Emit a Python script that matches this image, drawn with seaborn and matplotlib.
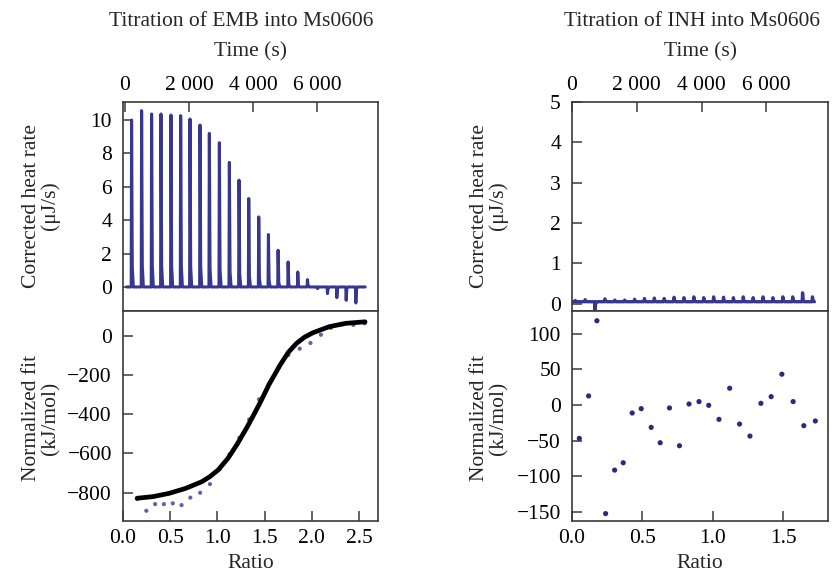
import numpy as np
import pandas as pd
import matplotlib
matplotlib.use("Agg")
import matplotlib.pyplot as plt
import seaborn as sns

# ---------------- data ----------------
# EMB thermogram: injection times (s) and peak heat rates (uJ/s)
emb_inj_time = [208, 521, 833, 1125, 1437, 1740, 2031, 2344, 2635, 2948, 3260, 3562,
                3865, 4177, 4479, 4781, 5094, 5396, 5698, 6010, 6323, 6615, 6906, 7208]
emb_inj_peak = [10.0, 10.56, 10.36, 10.36, 10.30, 10.26, 10.06, 9.7, 9.2, 8.64, 7.46, 6.4,
                5.3, 4.2, 3.14, 2.2, 1.5, 0.9, 0.44, -0.1, -0.4, -0.64, -0.8, -0.96]
emb_trace_start, emb_trace_end = 52, 7500

# EMB isotherm: integrated points and fit curve
emb_ratio = [0.15, 0.247, 0.34, 0.433, 0.527, 0.62, 0.713, 0.817, 0.921, 1.024, 1.128, 1.232,
             1.336, 1.44, 1.545, 1.649, 1.751, 1.871, 1.985, 2.096, 2.2, 2.32, 2.44, 2.56]
emb_heat = [-832, -892, -858, -858, -854, -863, -825, -800, -756, -680, -604, -520,
            -427, -324, -245, -160, -98, -66, -37, 5, 40, 58, 55, 63]
emb_fit_ratio = [0.149, 0.315, 0.489, 0.662, 0.834, 0.92, 1.007, 1.111, 1.215, 1.318, 1.39,
                 1.457, 1.55, 1.664, 1.75, 1.837, 1.92, 2.01, 2.183, 2.356, 2.563]
emb_fit_heat = [-828, -820, -803, -778, -744, -718, -684, -625, -548, -462, -398,
                -336, -245, -149, -85, -39, -8, 15, 46, 63, 71]

# INH thermogram
inh_inj_time = [100, 405, 710, 1015, 1320, 1625, 1930, 2235, 2540, 2845, 3150, 3455,
                3760, 4065, 4370, 4675, 4980, 5285, 5590, 5895, 6200, 6505, 6810, 7115, 7420]
inh_inj_peak = [0.03, 0.05, -0.2, 0.07, 0.04, 0.04, 0.06, 0.08, 0.09, 0.08, 0.11, 0.1,
                0.12, 0.1, 0.12, 0.11, 0.1, 0.12, 0.1, 0.12, 0.1, 0.12, 0.12, 0.22, 0.12]
inh_baseline = 0.05
inh_trace_start, inh_trace_end = 0, 7480

# INH isotherm points
inh_ratio = [0.052, 0.118, 0.177, 0.239, 0.303, 0.364, 0.428, 0.492, 0.563, 0.627, 0.693,
             0.764, 0.832, 0.903, 0.972, 1.045, 1.121, 1.191, 1.265, 1.343, 1.416, 1.492,
             1.572, 1.648, 1.730]
inh_heat = [-46.9, 12.7, 118.3, -152.6, -91.5, -81.2, -11.3, -5.2, -31.5, -53.1, -4.2,
            -57.3, 1.4, 4.7, -0.5, -20.2, 23.5, -26.8, -43.7, 2.3, 11.7, 43.2, 4.7, -29.1, -22.5]

time_ticks = [0, 2000, 4000, 6000]
time_tick_labels = ["0", "2 000", "4 000", "6 000"]


def trace(times, peaks, base, start, end):
    """Polyline of a thermogram: a sharp spike at each injection."""
    t, q = [start], [base]
    for T, h in zip(times, peaks):
        t += [T - 12, T, T + 22, T + 55]
        q += [base, base + h, base + 0.12 * h, base]
    t.append(end)
    q.append(base)
    return pd.DataFrame({"time": t, "rate": q})


emb_df = trace(emb_inj_time, emb_inj_peak, 0.0, emb_trace_start, emb_trace_end)
inh_df = trace(inh_inj_time, inh_inj_peak, inh_baseline, inh_trace_start, inh_trace_end)
emb_pts = pd.DataFrame({"ratio": emb_ratio, "heat": emb_heat})
emb_fit = pd.DataFrame({"ratio": emb_fit_ratio, "heat": emb_fit_heat})
inh_pts = pd.DataFrame({"ratio": inh_ratio, "heat": inh_heat})

# ---------------- styling ----------------
sns.set_style("white")
plt.rcParams['font.family'] = ['Liberation Serif', 'DejaVu Serif']
plt.rcParams['font.size'] = 15.5
plt.rcParams['axes.unicode_minus'] = True

W, H = 839, 577
fig = plt.figure(figsize=(W / 100, H / 100), dpi=100)


def box(x0, y0, x1, y1):
    return fig.add_axes([x0 / W, 1 - y1 / H, (x1 - x0) / W, (y1 - y0) / H])


ax_tl = box(123, 102, 378, 311)
ax_bl = box(123, 311, 378, 521)
ax_tr = box(572, 102, 828, 311)
ax_br = box(572, 311, 828, 521)

line_col = "#37378f"
spine_col = "#3a3a3a"

sns.lineplot(data=emb_df, x="time", y="rate", ax=ax_tl, color=line_col, lw=2.2,
             sort=False, estimator=None)
sns.lineplot(data=inh_df, x="time", y="rate", ax=ax_tr, color=line_col, lw=2.4,
             sort=False, estimator=None)
sns.scatterplot(data=emb_pts, x="ratio", y="heat", ax=ax_bl, color="#6262aa", s=9,
                edgecolor="none", zorder=2)
sns.lineplot(data=emb_fit, x="ratio", y="heat", ax=ax_bl, color="black", lw=3.4,
             sort=False, estimator=None, zorder=3)
sns.scatterplot(data=inh_pts, x="ratio", y="heat", ax=ax_br, color="#2b2b7c", s=14,
                edgecolor="none")

ax_tl.set_xlim(-60, 7900)
ax_tl.set_ylim(-1.44, 11.08)
ax_tl.set_yticks([0, 2, 4, 6, 8, 10])
ax_tr.set_xlim(20, 7900)
ax_tr.set_ylim(-0.18, 5.0)
ax_tr.set_yticks([0, 1, 2, 3, 4, 5])
ax_bl.set_xlim(0.056, 2.70)
ax_bl.set_ylim(-944, 126)
ax_bl.set_yticks([0, -200, -400, -600, -800])
ax_bl.set_xticks([0.0, 0.5, 1.0, 1.5, 2.0, 2.5], labels=["0.0", "0.5", "1.0", "1.5", "2.0", "2.5"])
ax_br.set_xlim(0.0, 1.82)
ax_br.set_ylim(-163, 132)
ax_br.set_yticks([100, 50, 0, -50, -100, -150])
ax_br.set_xticks([0.0, 0.5, 1.0, 1.5], labels=["0.0", "0.5", "1.0", "1.5"])

for ax in (ax_tl, ax_tr):
    ax.set_xticks(time_ticks, labels=time_tick_labels)
    ax.tick_params(axis="x", top=True, bottom=False, labeltop=True, labelbottom=False,
                   direction="in", length=7, width=1.1, pad=5, colors=spine_col,
                   labelcolor="black")
for ax in (ax_bl, ax_br):
    ax.tick_params(axis="x", top=False, bottom=True, labeltop=False, labelbottom=True,
                   direction="in", length=7, width=1.1, pad=6, colors=spine_col,
                   labelcolor="black")
for ax in (ax_tl, ax_tr, ax_bl, ax_br):
    ax.tick_params(axis="y", left=True, right=False, direction="in", length=7,
                   width=1.1, pad=8, colors=spine_col, labelcolor="black")
    ax.set_xlabel("")
    ax.set_ylabel("")
    for sp in ax.spines.values():
        sp.set_visible(True)
        sp.set_color(spine_col)
        sp.set_linewidth(1.2)

# ---------------- texts ----------------
def ftext(x, y, s, **kw):
    fig.text(x / W, 1 - y / H, s, ha="center", va="center", **kw)


ftext(241, 22, "Titration of EMB into Ms0606")
ftext(692, 22, "Titration of INH into Ms0606")
ftext(251, 52, "Time (s)")
ftext(700, 52, "Time (s)")
ftext(251, 563, "Ratio")
ftext(700, 563, "Ratio")
ftext(41, 206, "Corrected heat rate\n(μJ/s)", rotation=90, linespacing=1.0)
ftext(41, 418, "Normalized fit\n(kJ/mol)", rotation=90, linespacing=1.0)
ftext(489, 206, "Corrected heat rate\n(μJ/s)", rotation=90, linespacing=1.0)
ftext(489, 418, "Normalized fit\n(kJ/mol)", rotation=90, linespacing=1.0)

fig.savefig("out.png", dpi=100)
